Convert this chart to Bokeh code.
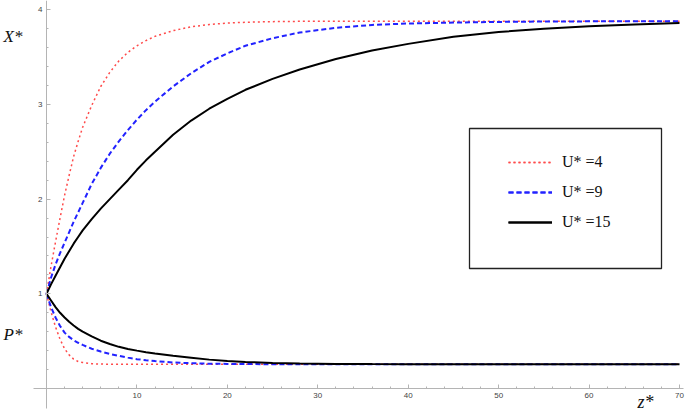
from bokeh.plotting import figure
from bokeh.models import Range1d, FixedTicker, Legend, LegendItem, Label, BoxAnnotation
from bokeh.embed import file_html
from bokeh.resources import INLINE

# ---------------- data ----------------
z = [0, 0.5, 1, 1.5, 2, 2.5, 3, 3.5, 4, 5,
     6, 7, 8, 9, 10, 11, 12, 14, 16, 18,
     20, 22, 25, 28, 32, 36, 40, 45, 50, 55,
     60, 65, 70]

# X* curves (upper branch)
x_u4 = [1.00, 1.29, 1.55, 1.80, 2.04, 2.25, 2.45, 2.61, 2.76, 2.99,
        3.19, 3.34, 3.46, 3.55, 3.62, 3.675, 3.72, 3.78, 3.82, 3.845,
        3.86, 3.868, 3.875, 3.878, 3.88, 3.88, 3.88, 3.88, 3.88, 3.88,
        3.88, 3.88, 3.88]
x_u9 = [1.00, 1.17, 1.31, 1.43, 1.54, 1.65, 1.76, 1.86, 1.96, 2.16,
        2.33, 2.48, 2.61, 2.73, 2.84, 2.94, 3.03, 3.19, 3.33, 3.45,
        3.54, 3.62, 3.70, 3.76, 3.81, 3.84, 3.855, 3.865, 3.872, 3.876,
        3.878, 3.88, 3.88]
x_u15 = [1.00, 1.10, 1.19, 1.28, 1.37, 1.45, 1.53, 1.60, 1.67, 1.79,
         1.90, 2.00, 2.10, 2.20, 2.31, 2.41, 2.50, 2.68, 2.83, 2.955,
         3.06, 3.155, 3.27, 3.37, 3.48, 3.57, 3.64, 3.715, 3.765, 3.80,
         3.825, 3.845, 3.86]

# P* curves (lower branch)
p_u4 = [1.00, 0.81, 0.65, 0.52, 0.42, 0.355, 0.31, 0.285, 0.275, 0.262,
        0.258, 0.256, 0.255, 0.255, 0.255, 0.255, 0.255, 0.255, 0.255, 0.255,
        0.255, 0.255, 0.255, 0.255, 0.255, 0.255, 0.255, 0.255, 0.255, 0.255,
        0.255, 0.255, 0.255]
p_u9 = [1.00, 0.86, 0.75, 0.66, 0.59, 0.545, 0.51, 0.483, 0.46, 0.42,
        0.39, 0.365, 0.345, 0.326, 0.31, 0.299, 0.29, 0.275, 0.267, 0.262,
        0.26, 0.258, 0.257, 0.256, 0.255, 0.255, 0.255, 0.255, 0.255, 0.255,
        0.255, 0.255, 0.255]
p_u15 = [1.00, 0.93, 0.86, 0.80, 0.75, 0.705, 0.665, 0.63, 0.60, 0.55,
         0.505, 0.47, 0.44, 0.418, 0.40, 0.384, 0.37, 0.345, 0.325, 0.305,
         0.29, 0.28, 0.27, 0.264, 0.26, 0.258, 0.257, 0.256, 0.255, 0.255,
         0.255, 0.255, 0.255]

legend_labels = ["U* =4", "U* =9", "U* =15"]
x_ticks = [10, 20, 30, 40, 50, 60, 70]
x_minor = [2, 4, 6, 8, 12, 14, 16, 18, 22, 24, 26, 28, 32, 34, 36, 38, 42, 44,
           46, 48, 52, 54, 56, 58, 62, 64, 66, 68]
y_ticks = [1, 2, 3, 4]
y_minor = [0.2, 0.4, 0.6, 0.8, 1.2, 1.4, 1.6, 1.8, 2.2, 2.4, 2.6, 2.8, 3.2,
           3.4, 3.6, 3.8]

# ---------------- layout (pixels within the figure) ----------------
W, H = 685, 412
X0_PX, X70_PX = 46, 679     # screen x of z=0 and z=70
Y0_PX, Y4_PX = 388, 9.3     # screen y of value 0 and value 4
sx = (X70_PX - X0_PX) / 70.0
sy = (Y0_PX - Y4_PX) / 4.0


def dx(px):
    return (px - X0_PX) / sx


def dy(py):
    return (Y0_PX - py) / sy


p = figure(width=W, height=H, output_backend="svg", toolbar_location=None,
           x_range=Range1d(dx(0), dx(W)), y_range=Range1d(dy(H), dy(0)),
           min_border=0, min_border_left=0, min_border_right=0,
           min_border_top=0, min_border_bottom=0)
p.outline_line_color = None
p.xgrid.visible = False
p.ygrid.visible = False
p.background_fill_color = "white"
p.border_fill_color = "white"

AX_COL = "#b4b4b4"
for ax in (p.xaxis[0], p.yaxis[0]):
    ax.fixed_location = 0
    ax.axis_line_color = AX_COL
    ax.major_tick_line_color = AX_COL
    ax.minor_tick_line_color = AX_COL
    ax.major_tick_in = 4
    ax.major_tick_out = 0
    ax.minor_tick_in = 2
    ax.minor_tick_out = 0
    ax.major_label_text_font = "Liberation Sans"
    ax.major_label_text_font_size = "8px"
    ax.major_label_text_color = "#444444"
    ax.major_label_standoff = 4

p.xaxis[0].ticker = FixedTicker(ticks=x_ticks, minor_ticks=x_minor)
p.yaxis[0].ticker = FixedTicker(ticks=y_ticks, minor_ticks=y_minor)
p.xaxis[0].bounds = (dx(33), dx(683))
p.yaxis[0].bounds = (dy(408), dy(0))

RED, BLUE, BLACK = "#ff4a4a", "#2222ff", "#000000"
r4u = p.line(z, x_u4, line_color=RED, line_width=1.5, line_dash="2 3")
r4l = p.line(z, p_u4, line_color=RED, line_width=1.5, line_dash="2 3")
r9u = p.line(z, x_u9, line_color=BLUE, line_width=2, line_dash="5 3")
r9l = p.line(z, p_u9, line_color=BLUE, line_width=2, line_dash="5 3")
r15u = p.line(z, x_u15, line_color=BLACK, line_width=2)
r15l = p.line(z, p_u15, line_color=BLACK, line_width=2)

# legend frame
box = BoxAnnotation(left=dx(469), right=dx(661), top=dy(128), bottom=dy(268),
                    fill_alpha=0, line_color="#222222", line_alpha=1,
                    line_width=1.3)
p.add_layout(box)

legend = Legend(items=[LegendItem(label=legend_labels[0], renderers=[r4u, r4l]),
                       LegendItem(label=legend_labels[1], renderers=[r9u, r9l]),
                       LegendItem(label=legend_labels[2], renderers=[r15u, r15l])],
                location=(508, H - 232), padding=0, spacing=10, margin=0,
                glyph_width=44, glyph_height=20, label_height=20,
                label_standoff=10, border_line_color=None,
                background_fill_alpha=0,
                label_text_font="Liberation Serif",
                label_text_font_size="16px",
                label_text_color="#111111")
p.add_layout(legend)

LBL = dict(text_font="Liberation Serif", text_font_style="italic",
           text_color="#111111")
p.add_layout(Label(x=dx(3), y=dy(36), text="X*", text_baseline="middle",
                   text_font_size="17px", **LBL))
p.add_layout(Label(x=dx(3), y=dy(334), text="P*", text_baseline="middle",
                   text_font_size="17px", **LBL))
p.add_layout(Label(x=dx(637), y=dy(401), text="z*", text_baseline="middle",
                   text_font_size="18px", **LBL))

open("out.html", "w").write(file_html(p, INLINE))
